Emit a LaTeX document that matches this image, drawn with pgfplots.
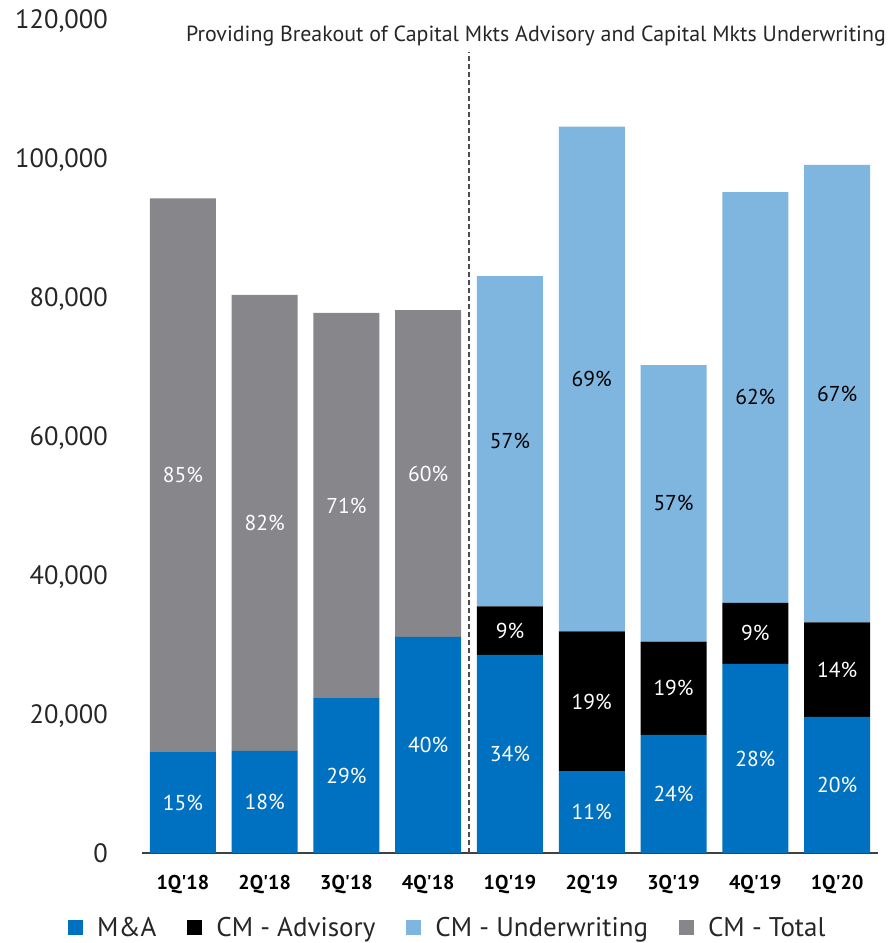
\documentclass[border=0pt]{standalone}
\usepackage{pgfplots}
\pgfplotsset{compat=1.18}
\usepackage{pgfplotstable}
\usepackage{fontspec}
\setmainfont{PT Sans}
\definecolor{mablue}{HTML}{0070C0}
\definecolor{uwblue}{HTML}{7FB6DF}
\definecolor{cmgrey}{HTML}{86868B}

\pgfplotstableread{
x  ma     adv    uw     tot
0  14500  0      0      79700
1  14700  0      0      65600
2  22300  0      0      55400
3  31100  0      0      47000
4  28500  7000   47500  0
5  11700  20200  72600  0
6  17000  13400  39800  0
7  27200  8800   59100  0
8  19600  13600  65800  0
}\bars

\pgfplotstableread{
x  y      lab
0  7250   15\%
0  54350  85\%
1  7350   18\%
1  47500  82\%
2  11150  29\%
2  50000  71\%
3  15550  40\%
3  54600  60\%
4  14250  34\%
4  32000  9\%
5  5850   11\%
5  21800  19\%
6  8500   24\%
6  23700  19\%
7  13600  28\%
7  31600  9\%
8  9800   20\%
8  26400  14\%
}\whitelabels

\pgfplotstableread{
x  y      lab
4  59250  57\%
5  68200  69\%
6  50300  57\%
7  65550  62\%
8  66100  67\%
}\blacklabels

\newcommand{\q}{\textquotesingle}

\begin{document}
\begin{tikzpicture}
\useasboundingbox (-142pt,-90pt) rectangle (745pt,853pt);
\begin{axis}[
  scale only axis,
  width=736pt, height=834pt,
  xmin=-0.5, xmax=8.5,
  ymin=0, ymax=120000,
  ybar stacked,
  bar width=66pt,
  axis x line*=bottom,
  axis y line*=left,
  x axis line style={draw=black!75, line width=1.4pt, -},
  y axis line style={draw=none},
  major tick length=0pt,
  xtick={0,...,8},
  xticklabels={1Q\q18,2Q\q18,3Q\q18,4Q\q18,1Q\q19,2Q\q19,3Q\q19,4Q\q19,1Q\q20},
  xticklabel style={font=\fontsize{20}{24}\selectfont\bfseries, inner sep=0pt, anchor=north, yshift=-22pt},
  scaled y ticks=false,
  ytick={0,20000,40000,60000,80000,100000,120000},
  yticklabels={0,{20,000},{40,000},{60,000},{80,000},{100,000},{120,000}},
  yticklabel style={font=\fontsize{26.5}{30}\selectfont, inner sep=0pt, anchor=base east, xshift=-34pt, yshift=-9.5pt, text=black!85},
  legend columns=-1,
  legend style={draw=none, fill=none, at={(-0.1005,-0.0899)}, anchor=west, inner sep=0pt,
    font=\fontsize{27}{30}\selectfont,
    /tikz/every even column/.append style={column sep=17pt},
    nodes={inner xsep=14pt, inner ysep=0pt, text=black!85}},
  legend image code/.code={\fill[#1] (0pt,-7.5pt) rectangle (15pt,7.5pt);},
  clip=false,
]
\addplot[fill=mablue, draw=none] table[x=x, y=ma] {\bars};
\addlegendentry{M\&A}
\addplot[fill=black, draw=none] table[x=x, y=adv] {\bars};
\addlegendentry{CM - Advisory}
\addplot[fill=uwblue, draw=none] table[x=x, y=uw] {\bars};
\addlegendentry{CM - Underwriting}
\addplot[fill=cmgrey, draw=none] table[x=x, y=tot] {\bars};
\addlegendentry{CM - Total}
\draw[black!70, line width=1.3pt, dash pattern=on 5pt off 3pt] (axis cs:3.5,0) -- (axis cs:3.5,115300);
\node[anchor=base east, font=\fontsize{21.9}{26}\selectfont, inner sep=0pt, text=black!85]
  at ([xshift=8pt, yshift=-23pt]rel axis cs:1,1) {Providing Breakout of Capital Mkts Advisory and Capital Mkts Underwriting};
\end{axis}
\begin{axis}[
  scale only axis,
  width=736pt, height=834pt,
  xmin=-0.5, xmax=8.5,
  ymin=0, ymax=120000,
  hide axis,
  clip=false,
]
\addplot[draw=none, mark=none, nodes near coords, point meta=explicit symbolic,
  nodes near coords style={anchor=center, text=white, font=\fontsize{21.5}{24}\selectfont, inner sep=0pt}]
  table[x=x, y=y, meta=lab] {\whitelabels};
\addplot[draw=none, mark=none, nodes near coords, point meta=explicit symbolic,
  nodes near coords style={anchor=center, text=black, font=\fontsize{21.5}{24}\selectfont, inner sep=0pt}]
  table[x=x, y=y, meta=lab] {\blacklabels};
\end{axis}
\end{tikzpicture}
\end{document}
